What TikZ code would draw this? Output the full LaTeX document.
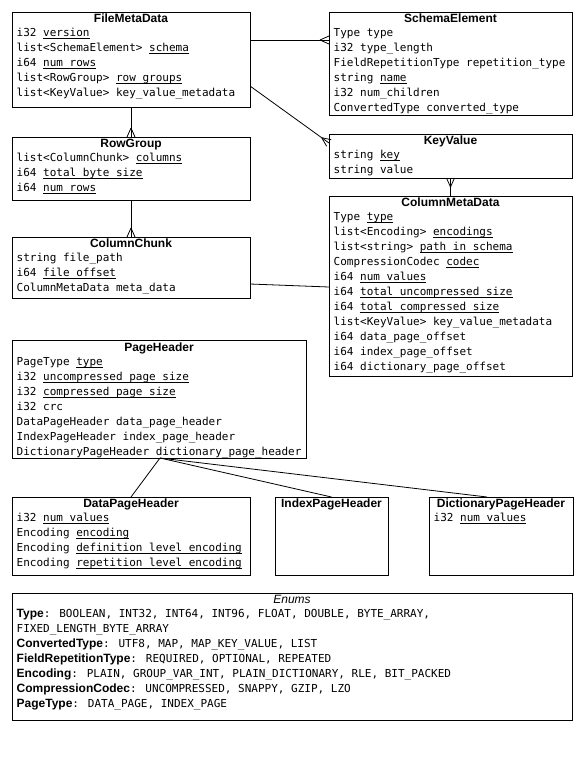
\documentclass[tikz,border=0pt]{standalone}
\usepackage{fontspec}
\setmainfont{Liberation Sans}
\newfontfamily\monofont{DejaVu Sans Mono}
\usetikzlibrary{decorations.markings}

\newsavebox{\reqbox}
\newcommand{\reqd}[1]{\sbox{\reqbox}{#1}\rlap{\rule[-2.3pt]{\wd\reqbox}{0.7pt}}\usebox{\reqbox}}
\newcommand{\strt}{\rule{0pt}{11pt}}
\newcommand{\enm}[1]{{\normalfont\bfseries\fontsize{12}{15}\selectfont #1}}

\begin{document}
\begin{tikzpicture}[x=1pt, y=-1pt,
    entity/.style={draw, line width=0.9pt, anchor=north west, inner sep=0pt, outer sep=0pt},
    heading/.style={anchor=base, inner sep=0pt, font=\bfseries\fontsize{12}{14}\selectfont},
    fields/.style={anchor=north west, align=left, inner sep=0pt, font=\monofont\fontsize{11}{15}\selectfont},
    link/.style={line width=0.8pt},
    many/.style={link, postaction={decorate, decoration={markings,
        mark=at position 1 with {\draw[line width=0.8pt] (-9,0) -- (0,4) (-9,0) -- (0,-4);}}}}]
        \useasboundingbox (0,0) rectangle (584,766);

        \node[entity, minimum width=238pt, minimum height=95pt] (fmd) at (12,12) {};
        \node[heading] (fmd-h) at ([yshift=-10.5pt]fmd.north) {FileMetaData};
        \node[fields] (fmd-f) at ([shift={(4.5,13.5)}]fmd.north west) {\strt i32 \reqd{version}\\
            list<SchemaElement> \reqd{schema}\\
            i64 \reqd{num\_rows}\\
            list<RowGroup> \reqd{row\_groups}\\
            list<KeyValue> key\_value\_metadata};

        \node[entity, minimum width=243pt, minimum height=103pt] (se) at (329,12) {};
        \node[heading] (se-h) at ([yshift=-10.5pt]se.north) {SchemaElement};
        \node[fields] (se-f) at ([shift={(4.5,13.5)}]se.north west) {\strt Type type\\
            i32 type\_length\\
            FieldRepetitionType repetition\_type\\
            string \reqd{name}\\
            i32 num\_children\\
            ConvertedType converted\_type};

        \node[entity, minimum width=243pt, minimum height=44pt] (kv) at (329,134) {};
        \node[heading] (kv-h) at ([yshift=-10.5pt]kv.north) {KeyValue};
        \node[fields] (kv-f) at ([shift={(4.5,13.5)}]kv.north west) {\strt string \reqd{key}\\
            string value};

        \node[entity, minimum width=238pt, minimum height=63pt] (rg) at (12,137) {};
        \node[heading] (rg-h) at ([yshift=-10.5pt]rg.north) {RowGroup};
        \node[fields] (rg-f) at ([shift={(4.5,13.5)}]rg.north west) {\strt list<ColumnChunk> \reqd{columns}\\
            i64 \reqd{total\_byte\_size}\\
            i64 \reqd{num\_rows}};

        \node[entity, minimum width=238pt, minimum height=61pt] (cc) at (12,237) {};
        \node[heading] (cc-h) at ([yshift=-10.5pt]cc.north) {ColumnChunk};
        \node[fields] (cc-f) at ([shift={(4.5,13.5)}]cc.north west) {\strt string file\_path\\
            i64 \reqd{file\_offset}\\
            ColumnMetaData meta\_data};

        \node[entity, minimum width=243pt, minimum height=180pt] (cmd) at (329,196) {};
        \node[heading] (cmd-h) at ([yshift=-10.5pt]cmd.north) {ColumnMetaData};
        \node[fields] (cmd-f) at ([shift={(4.5,13.5)}]cmd.north west) {\strt Type \reqd{type}\\
            list<Encoding> \reqd{encodings}\\
            list<string> \reqd{path\_in\_schema}\\
            CompressionCodec \reqd{codec}\\
            i64 \reqd{num\_values}\\
            i64 \reqd{total\_uncompressed\_size}\\
            i64 \reqd{total\_compressed\_size}\\
            list<KeyValue> key\_value\_metadata\\
            i64 data\_page\_offset\\
            i64 index\_page\_offset\\
            i64 dictionary\_page\_offset};

        \node[entity, minimum width=294pt, minimum height=118pt] (ph) at (12,340) {};
        \node[heading] (ph-h) at ([yshift=-11.5pt]ph.north) {PageHeader};
        \node[fields] (ph-f) at ([shift={(4.5,14.5)}]ph.north west) {\strt PageType \reqd{type}\\
            i32 \reqd{uncompressed\_page\_size}\\
            i32 \reqd{compressed\_page\_size}\\
            i32 crc\\
            DataPageHeader data\_page\_header\\
            IndexPageHeader index\_page\_header\\
            DictionaryPageHeader dictionary\_page\_header};

        \node[entity, minimum width=238pt, minimum height=78pt] (dph) at (12,497) {};
        \node[heading] (dph-h) at ([yshift=-10.5pt]dph.north) {DataPageHeader};
        \node[fields] (dph-f) at ([shift={(4.5,13.5)}]dph.north west) {\strt i32 \reqd{num\_values}\\
            Encoding \reqd{encoding}\\
            Encoding \reqd{definition\_level\_encoding}\\
            Encoding \reqd{repetition\_level\_encoding}};

        \node[entity, minimum width=113pt, minimum height=78pt] (iph) at (275,497) {};
        \node[heading] (iph-h) at ([yshift=-10.5pt]iph.north) {IndexPageHeader};

        \node[entity, minimum width=144pt, minimum height=78pt] (dcph) at (429,497) {};
        \node[heading] (dcph-h) at ([yshift=-10.5pt]dcph.north) {DictionaryPageHeader};
        \node[fields] (dcph-f) at ([shift={(4.5,13.5)}]dcph.north west) {\strt i32 \reqd{num\_values}};

        \node[entity, minimum width=560pt, minimum height=127pt] (enums) at (12,593) {};
        \node[heading, font=\itshape\fontsize{12}{14}\selectfont] (enums-h) at ([yshift=-10pt]enums.north) {Enums};
        \node[fields] (enums-f) at ([shift={(4.5,13.5)}]enums.north west) {\strt\enm{Type}: BOOLEAN, INT32, INT64, INT96, FLOAT, DOUBLE, BYTE\_ARRAY,\\
            FIXED\_LENGTH\_BYTE\_ARRAY\\
            \enm{ConvertedType}: UTF8, MAP, MAP\_KEY\_VALUE, LIST\\
            \enm{FieldRepetitionType}: REQUIRED, OPTIONAL, REPEATED\\
            \enm{Encoding}: PLAIN, GROUP\_VAR\_INT, PLAIN\_DICTIONARY, RLE, BIT\_PACKED\\
            \enm{CompressionCodec}: UNCOMPRESSED, SNAPPY, GZIP, LZO\\
            \enm{PageType}: DATA\_PAGE, INDEX\_PAGE};

        \draw[many] ([yshift=-28pt]fmd.north east) -- ([yshift=-28pt]se.north west);
        \draw[many] ([yshift=-74pt]fmd.north east) -- ([yshift=-9pt]kv.north west);
        \draw[many] (fmd.south) -- (rg.north);
        \draw[many] (rg.south) -- (cc.north);
        \draw[many] (cmd.north) -- (kv.south);
        \draw[link] ([yshift=-47pt]cc.north east) -- ([yshift=-91pt]cmd.north west);
        \draw[link] ([xshift=148pt]ph.south west) -- (dph.north);
        \draw[link] ([xshift=148pt]ph.south west) -- (iph.north);
        \draw[link] ([xshift=148pt]ph.south west) -- ([xshift=-14pt]dcph.north);
\end{tikzpicture}
\end{document}
